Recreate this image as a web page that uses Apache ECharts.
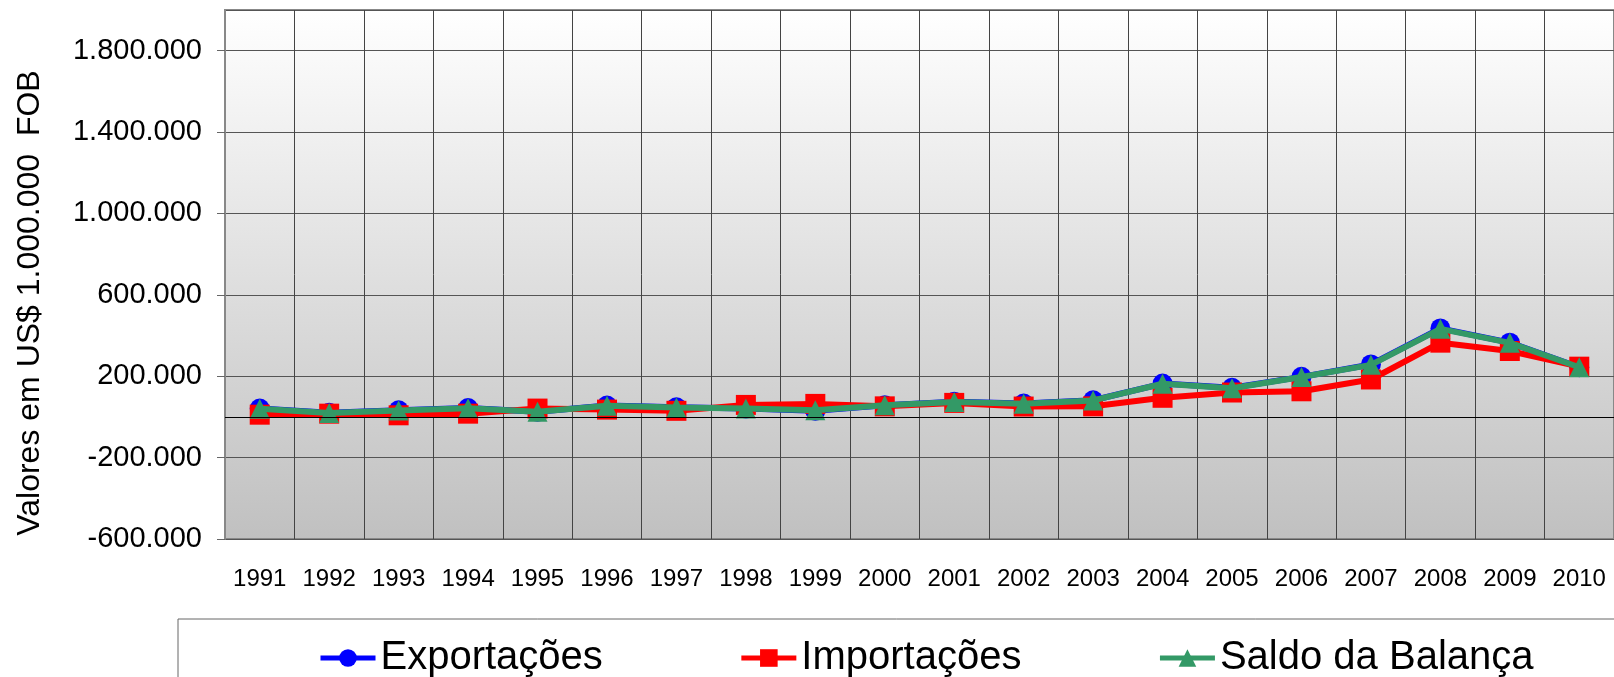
<!DOCTYPE html>
<html>
<head>
<meta charset="utf-8">
<script src="https://cdn.jsdelivr.net/npm/echarts@6/dist/echarts.min.js"></script>
<style>
    html, body { margin: 0; padding: 0; background: #fff; }
    #chart { width: 1614px; height: 677px; }
</style>
</head>
<body>
<div id="chart"></div>
<script>
    // anos
    var anos = ['1991','1992','1993','1994','1995','1996','1997','1998','1999','2000',
                '2001','2002','2003','2004','2005','2006','2007','2008','2009','2010'];
    // Exportações
    var exportacoes = [41000, 20000, 33000, 44000, 25000, 56000, 47000, 42000, 30000, 57000,
                       74000, 66000, 82000, 164000, 143000, 197000, 258000, 435000, 365000, 244000];
    // Importações
    var importacoes = [11000, 16000, 8000, 16000, 41000, 36000, 30000, 59000, 64000, 52000,
                       69000, 51000, 52000, 94000, 120000, 126000, 184000, 365000, 324000, 247000];
    // Saldo da Balança
    var saldo = [40000, 19000, 32000, 43000, 25000, 55000, 46000, 42000, 33000, 57000,
                 73000, 65000, 81000, 163000, 141000, 196000, 256000, 433000, 364000, 244000];

    var yMin = -600000, yMax = 2000000, yStep = 400000;

    function fmt(v) {
        var neg = v < 0;
        var s = String(Math.abs(Math.round(v)));
        s = s.replace(/\B(?=(\d{3})+(?!\d))/g, '.');
        return (neg ? '-' : '') + s;
    }

    var fonte = 'Liberation Sans';
    var myChart = echarts.init(document.getElementById('chart'));

    var option = {
        backgroundColor: '#ffffff',
        animation: false,
        textStyle: { fontFamily: fonte, color: '#000' },
        grid: {
            left: 225, top: 10, right: -5, bottom: 138,
            show: true,
            backgroundColor: new echarts.graphic.LinearGradient(0, 0, 0, 1, [
                { offset: 0, color: '#ffffff' },
                { offset: 1, color: '#c0c0c0' }
            ]),
            borderColor: '#888888',
            borderWidth: 2
        },
        legend: {
            left: 313,
            top: 633,
            itemWidth: 55,
            itemHeight: 22,
            itemGap: 136,
            lineStyle: { width: 5 },
            textStyle: { fontFamily: fonte, fontSize: 40, color: '#000' },
            data: ['Exportações', 'Importações', 'Saldo da Balança']
        },
        graphic: [
            {
                type: 'rect',
                shape: { x: 178, y: 619, width: 1500, height: 120 },
                style: { fill: 'none', stroke: '#666666', lineWidth: 1 },
                z: -1
            },
            {
                type: 'text',
                x: 30, y: 303,
                rotation: Math.PI / 2,
                style: {
                    text: 'Valores em US$ 1.000.000  FOB',
                    font: '32px "Liberation Sans"',
                    fill: '#000',
                    align: 'center',
                    verticalAlign: 'middle'
                }
            }
        ],
        xAxis: {
            type: 'category',
            data: anos,
            boundaryGap: true,
            axisLine: { show: false },
            axisTick: { show: false },
            axisLabel: { fontFamily: fonte, fontSize: 24, color: '#000', margin: 28, interval: 0 },
            splitLine: { show: true, lineStyle: { color: '#444444', width: 1 } }
        },
        yAxis: {
            type: 'value',
            min: yMin,
            max: yMax,
            interval: yStep,
            axisLine: { show: true, lineStyle: { color: '#888888', width: 2 } },
            axisTick: { show: true, length: 8, lineStyle: { color: '#666666' } },
            axisLabel: {
                fontFamily: fonte, fontSize: 29, color: '#000', margin: 23,
                showMaxLabel: false,
                formatter: function (v) { return v >= yMax ? '' : fmt(v); }
            },
            splitLine: { show: true, lineStyle: { color: '#555555', width: 1 } }
        },
        series: [
            {
                name: 'Exportações',
                type: 'line',
                z: 2,
                data: exportacoes,
                symbol: 'circle',
                symbolSize: 20,
                itemStyle: { color: '#0000ff' },
                lineStyle: { color: '#0000ff', width: 6 },
                markLine: {
                    silent: true,
                    symbol: 'none',
                    label: { show: false },
                    lineStyle: { color: '#000', width: 1, type: 'solid' },
                    data: [{ yAxis: 0 }]
                }
            },
            {
                name: 'Importações',
                type: 'line',
                z: 3,
                data: importacoes,
                symbol: 'rect',
                symbolSize: 20,
                itemStyle: { color: '#ff0000' },
                lineStyle: { color: '#ff0000', width: 6 }
            },
            {
                name: 'Saldo da Balança',
                type: 'line',
                z: 4,
                data: saldo,
                symbol: 'triangle',
                symbolSize: 20,
                itemStyle: { color: '#339966' },
                lineStyle: { color: '#339966', width: 6 }
            }
        ]
    };

    myChart.setOption(option);
</script>
</body>
</html>
